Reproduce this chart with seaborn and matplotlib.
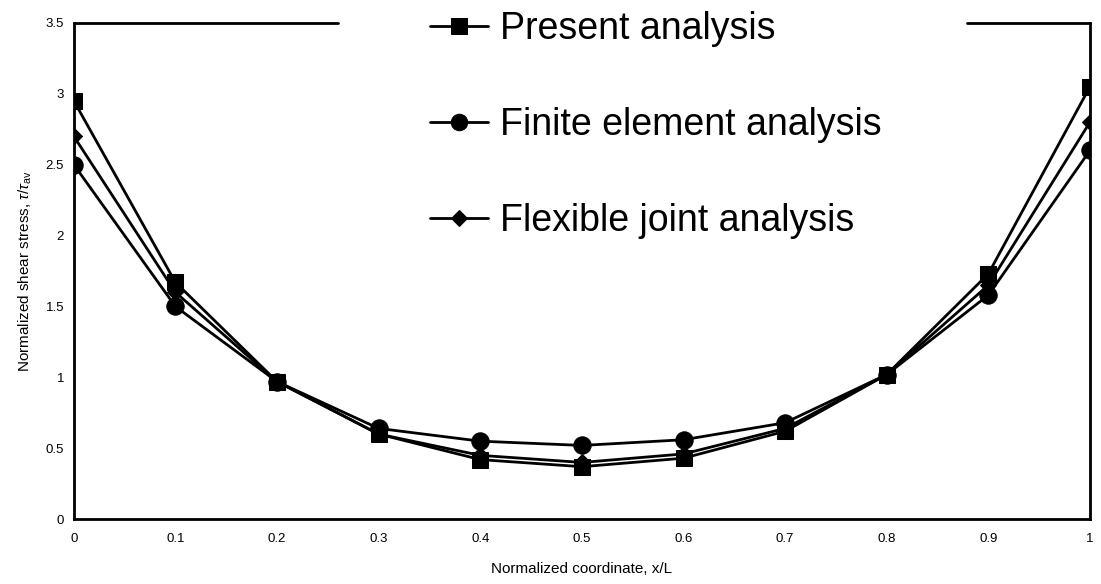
import matplotlib
matplotlib.use("Agg")
import matplotlib.pyplot as plt
import seaborn as sns
import pandas as pd

x_coord = [0.0, 0.1, 0.2, 0.3, 0.4, 0.5, 0.6, 0.7, 0.8, 0.9, 1.0]
present = [2.95, 1.67, 0.97, 0.60, 0.42, 0.37, 0.43, 0.62, 1.02, 1.73, 3.05]
finite = [2.50, 1.50, 0.97, 0.64, 0.55, 0.52, 0.56, 0.68, 1.02, 1.58, 2.60]
flexible = [2.70, 1.60, 0.97, 0.60, 0.45, 0.40, 0.46, 0.64, 1.02, 1.65, 2.80]
series_names = ["Present analysis", "Finite element analysis", "Flexible joint analysis"]
x_ticks = [0, 0.1, 0.2, 0.3, 0.4, 0.5, 0.6, 0.7, 0.8, 0.9, 1]
x_tick_labels = ["0", "0.1", "0.2", "0.3", "0.4", "0.5", "0.6", "0.7", "0.8", "0.9", "1"]
y_ticks = [0, 0.5, 1, 1.5, 2, 2.5, 3, 3.5]
y_tick_labels = ["0", "0.5", "1", "1.5", "2", "2.5", "3", "3.5"]

df = pd.concat([
    pd.DataFrame({"x": x_coord, "y": vals, "series": name})
    for name, vals in zip(series_names, [present, finite, flexible])
], ignore_index=True)

sns.set_theme(style="white")
plt.rcParams["font.family"] = ["Liberation Sans", "DejaVu Sans"]
plt.rcParams["mathtext.fontset"] = "custom"
plt.rcParams["mathtext.rm"] = "Liberation Sans"
plt.rcParams["mathtext.it"] = "Liberation Sans:italic"
plt.rcParams["text.color"] = "black"
plt.rcParams["axes.labelcolor"] = "black"
plt.rcParams["xtick.color"] = "black"
plt.rcParams["ytick.color"] = "black"

fig = plt.figure(figsize=(11.01, 5.84), dpi=100)
ax = fig.add_axes([0.067, 0.111, 0.923, 0.85])

markers = {series_names[0]: "s", series_names[1]: "o", series_names[2]: "D"}
sizes = {series_names[0]: 12, series_names[1]: 12.5, series_names[2]: 8.5}
for name in series_names:
    sub = df[df["series"] == name]
    sns.lineplot(data=sub, x="x", y="y", ax=ax, color="black", linewidth=2.0,
                 marker=markers[name], markersize=sizes[name], markeredgecolor="black",
                 markerfacecolor="black", label=name, legend=True)

ax.set_xlim(0, 1)
ax.set_ylim(0, 3.5)
ax.set_xticks(x_ticks)
ax.set_xticklabels(x_tick_labels, fontsize=9.5)
ax.set_yticks(y_ticks)
ax.set_yticklabels(y_tick_labels, fontsize=9.5)
ax.tick_params(axis="both", length=0)
ax.tick_params(axis="x", pad=10)
ax.tick_params(axis="y", pad=7)
for s in ax.spines.values():
    s.set_color("black")
    s.set_linewidth(2.0)
# top frame is interrupted where the legend sits
ax.spines["top"].set_visible(False)
ax.axhline(3.5, xmin=0.0, xmax=0.26, color="black", linewidth=2.0, clip_on=False)
ax.axhline(3.5, xmin=0.879, xmax=1.0, color="black", linewidth=2.0, clip_on=False)

ax.set_xlabel("Normalized coordinate, x/L", fontsize=11, labelpad=12)
ax.set_ylabel(r"Normalized shear stress, $\tau/\tau_{\rm av}$", fontsize=11, labelpad=8)

handles, labels = ax.get_legend_handles_labels()
leg = ax.legend(handles, labels, loc="upper left", bbox_to_anchor=(0.3504, 1.024),
                fontsize=27, frameon=False, borderpad=0.0, borderaxespad=0.0,
                labelspacing=1.6, handlelength=1.55,
                handletextpad=0.32, markerscale=0.95)
for t in leg.get_texts():
    t.set_color("black")

fig.savefig("out.png", dpi=100)
